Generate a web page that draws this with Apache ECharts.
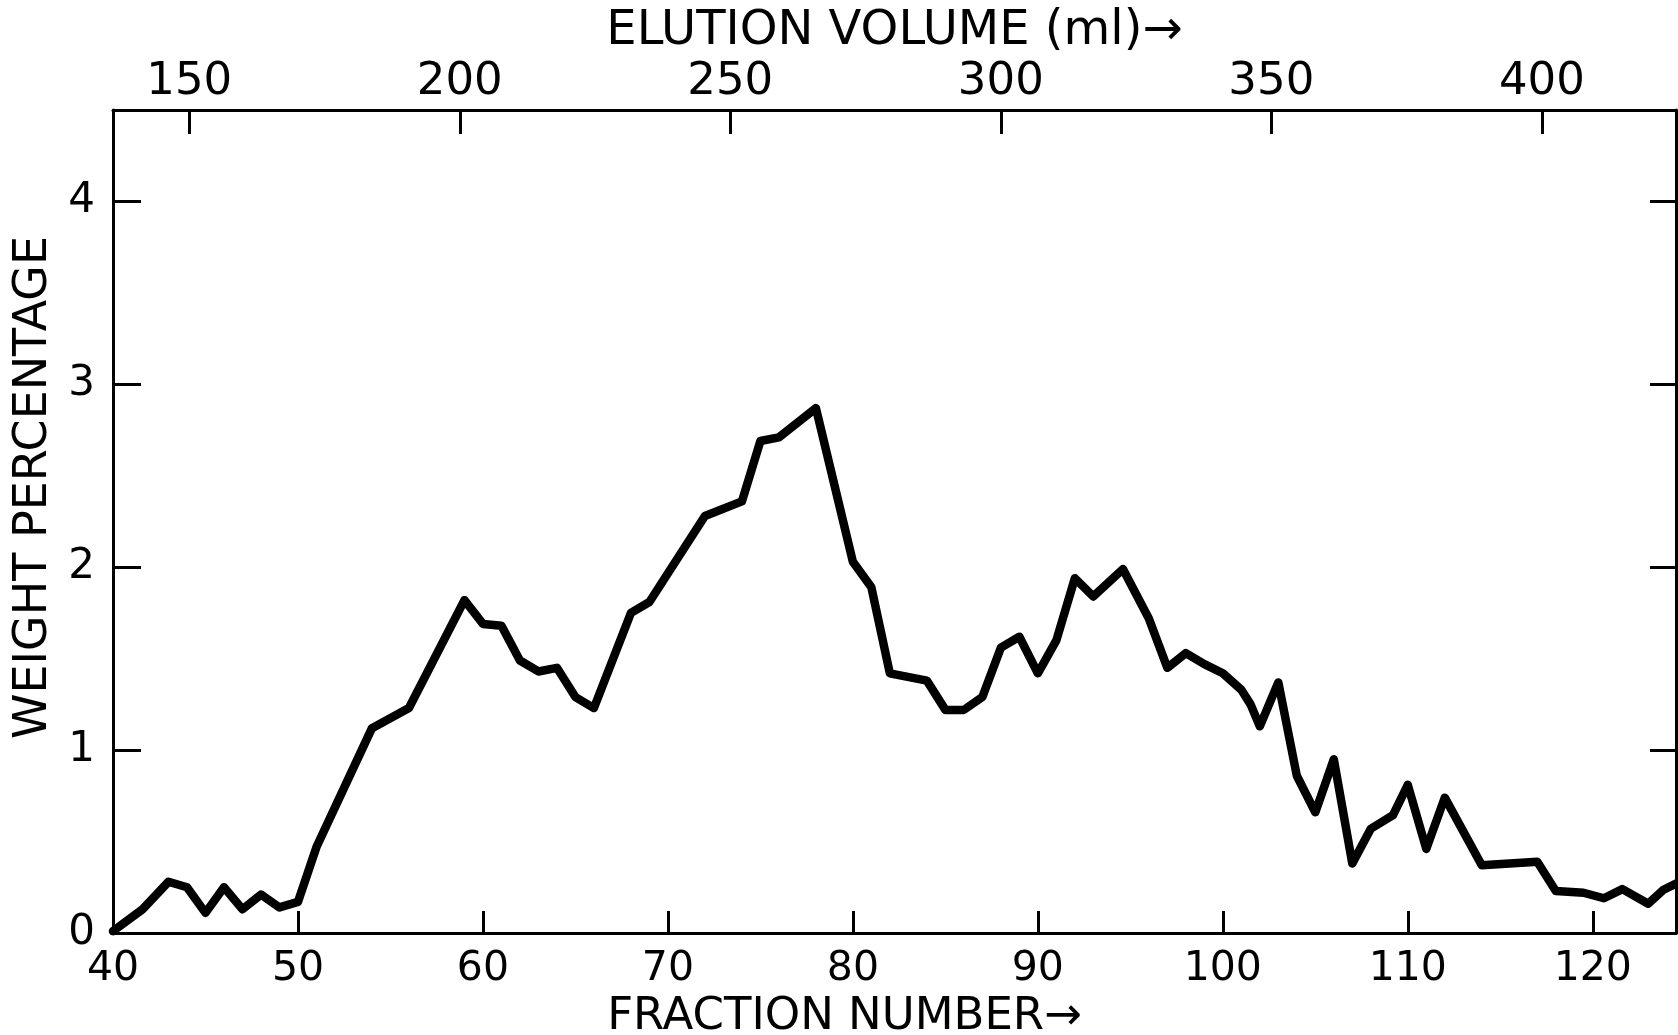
<!DOCTYPE html>
<html>
<head>
<meta charset="utf-8">
<title>Elution profile</title>
<script src="https://cdn.jsdelivr.net/npm/echarts@6/dist/echarts.min.js"></script>
<style>
  html, body { margin: 0; padding: 0; background: #fff; }
  #chart { width: 1678px; height: 1035px; }
</style>
</head>
<body>
<div id="chart"></div>
<script>
// Fraction number of each plotted point and its weight percentage
const fractionNumbers = [
  40, 41.6, 43, 44, 45, 46, 47, 48, 49, 50,
  51, 54, 56, 59, 60, 61, 62, 63, 64, 65,
  66, 68, 69, 72, 74, 75, 76, 78, 80, 81,
  82, 84, 85, 86, 87, 88, 89, 90, 91, 92,
  93, 94.6, 96, 97, 98, 99, 100, 101, 101.5, 102,
  103, 104, 105, 106, 107, 108, 109.2, 110, 111, 112,
  114, 117, 118, 119.5, 120.6, 121.6, 123, 123.8, 124.5
];
const weightPercent = [
  0.01, 0.13, 0.28, 0.25, 0.11, 0.25, 0.13, 0.21, 0.14, 0.17,
  0.47, 1.12, 1.23, 1.82, 1.69, 1.68, 1.49, 1.43, 1.45, 1.29,
  1.23, 1.75, 1.81, 2.28, 2.36, 2.69, 2.71, 2.87, 2.03, 1.89,
  1.42, 1.38, 1.22, 1.22, 1.29, 1.56, 1.62, 1.42, 1.60, 1.94,
  1.84, 1.99, 1.72, 1.45, 1.53, 1.47, 1.42, 1.33, 1.25, 1.13,
  1.37, 0.86, 0.66, 0.95, 0.38, 0.57, 0.645, 0.81, 0.46, 0.74,
  0.37, 0.39, 0.23, 0.22, 0.19, 0.24, 0.16, 0.235, 0.27
];

// Axis ticks and ranges
const fractionTicks = [40, 50, 60, 70, 80, 90, 100, 110, 120];
const volumeTicks = [150, 200, 250, 300, 350, 400];
const percentTicks = [0, 1, 2, 3, 4];
const rightPercentTicks = [1, 2, 3, 4];
const fractionRange = [40, 124.5];
const volumeRange = [135.9, 424.8];
const percentRange = [0, 4.5];

const points = fractionNumbers.map((f, i) => [f, weightPercent[i]]);

const FONT = 'DejaVu Sans';
const INK = '#000';
const axisLine = { show: true, onZero: false, lineStyle: { color: INK, width: 3 } };

const chart = echarts.init(document.getElementById('chart'), null, { renderer: 'canvas' });

chart.setOption({
  backgroundColor: '#fff',
  animation: false,
  grid: {
    left: 113, right: 2, top: 110, bottom: 102,
    containLabel: false, outerBoundsMode: 'none'
  },
  xAxis: [
    {
      type: 'value',
      position: 'bottom',
      min: fractionRange[0],
      max: fractionRange[1],
      name: 'FRACTION NUMBER\u2192',
      nameLocation: 'middle',
      nameGap: 57,
      nameTextStyle: { fontFamily: FONT, fontSize: 45, color: INK, padding: [0, 100, 0, 0] },
      axisLine: axisLine,
      axisTick: { show: true, inside: true, length: 22, customValues: fractionTicks,
                  lineStyle: { color: INK, width: 3 } },
      axisLabel: { show: true, customValues: fractionTicks, margin: 16,
                   fontFamily: FONT, fontSize: 41, color: INK },
      splitLine: { show: false }
    },
    {
      type: 'value',
      position: 'top',
      min: volumeRange[0],
      max: volumeRange[1],
      name: 'ELUTION VOLUME (ml)\u2192',
      nameLocation: 'middle',
      nameGap: 49,
      nameTextStyle: { fontFamily: FONT, fontSize: 48, color: INK },
      axisLine: axisLine,
      axisTick: { show: true, inside: true, length: 24, customValues: volumeTicks,
                  lineStyle: { color: INK, width: 3 } },
      axisLabel: { show: true, customValues: volumeTicks, margin: 5,
                   fontFamily: FONT, fontSize: 45, color: INK },
      splitLine: { show: false }
    }
  ],
  yAxis: [
    {
      type: 'value',
      position: 'left',
      min: percentRange[0],
      max: percentRange[1],
      name: 'WEIGHT PERCENTAGE',
      nameLocation: 'middle',
      nameGap: 50,
      nameTextStyle: { fontFamily: FONT, fontSize: 46, color: INK, padding: [0, 0, 0, 68] },
      axisLine: axisLine,
      axisTick: { show: true, inside: true, length: 28, customValues: percentTicks,
                  lineStyle: { color: INK, width: 3 } },
      axisLabel: { show: true, customValues: percentTicks, margin: 18,
                   fontFamily: FONT, fontSize: 42, color: INK },
      splitLine: { show: false }
    },
    {
      type: 'value',
      position: 'right',
      min: percentRange[0],
      max: percentRange[1],
      axisLine: axisLine,
      axisTick: { show: true, inside: true, length: 26, customValues: rightPercentTicks,
                  lineStyle: { color: INK, width: 3 } },
      axisLabel: { show: false },
      splitLine: { show: false }
    }
  ],
  series: [
    {
      type: 'line',
      xAxisIndex: 0,
      yAxisIndex: 0,
      data: points,
      symbol: 'none',
      smooth: false,
      lineStyle: { color: INK, width: 8.5, join: 'round', cap: 'round' }
    }
  ]
});
</script>
</body>
</html>
